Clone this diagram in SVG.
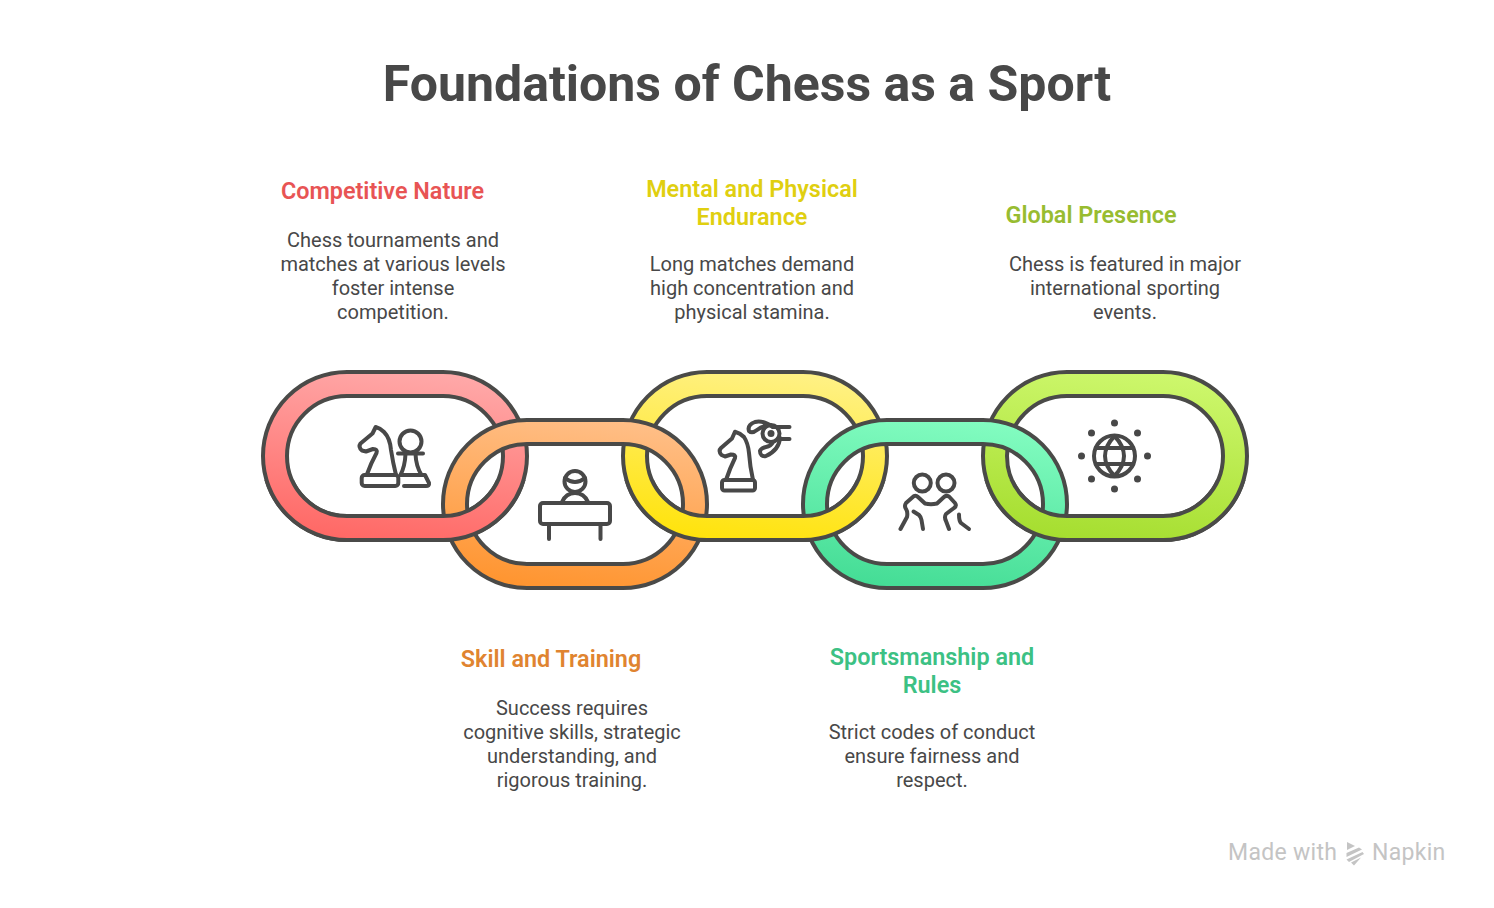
<svg xmlns="http://www.w3.org/2000/svg" width="1494" height="908" viewBox="0 0 1494 908">
<style>
text{font-family:Roboto,"Liberation Sans",sans-serif}
.title{font-size:50px;font-weight:700;fill:#484848;text-anchor:middle}
.head{font-size:23.400px;font-weight:600;text-anchor:middle}
.body{font-size:20px;fill:#484848;text-anchor:middle}
.link{stroke:#4a4a48;stroke-width:4;fill-rule:evenodd}
.ic{fill:none;stroke:#484848;stroke-width:4;stroke-linecap:round;stroke-linejoin:round}
.dot{fill:#484848}
.brand{font-size:23px;fill:#c4c4c4;letter-spacing:.3px}
#node-mental-endurance .head{fill:#e0cf10}
#node-sportsmanship .head{fill:#3cc184}
</style>
<defs>
<path id="ring" d="M84,0H180A84,84 0 0 1 180,168H84A84,84 0 0 1 84,0ZM84,24A60,60 0 0 0 84,144H180A60,60 0 0 0 180,24Z"/>
<linearGradient id="g1" x1=".6" y1="0" x2=".4" y2="1"><stop offset="0" stop-color="#ffa8a8"/><stop offset="1" stop-color="#ff6966"/></linearGradient>
<linearGradient id="g2" x1=".6" y1="0" x2=".4" y2="1"><stop offset="0" stop-color="#ffbe86"/><stop offset="1" stop-color="#ff9530"/></linearGradient>
<linearGradient id="g3" x1=".6" y1="0" x2=".4" y2="1"><stop offset="0" stop-color="#fff184"/><stop offset="1" stop-color="#ffe30d"/></linearGradient>
<linearGradient id="g4" x1=".6" y1="0" x2=".4" y2="1"><stop offset="0" stop-color="#82fcc0"/><stop offset="1" stop-color="#45dd96"/></linearGradient>
<linearGradient id="g5" x1=".6" y1="0" x2=".4" y2="1"><stop offset="0" stop-color="#cdf76c"/><stop offset="1" stop-color="#a6de30"/></linearGradient>
<clipPath id="low"><rect x="0" y="108" width="300" height="80"/></clipPath>
</defs>
<rect width="1494" height="908" fill="#fff"/>
<text class="title" x="747" y="101">Foundations of Chess as a Sport</text>

<g id="node-competitive-nature">
<use href="#ring" class="link" fill="url(#g1)" transform="translate(263,372)"/>
<g class="ic">
<path d="M366.700,475Q371,463 376.500,453Q378,449 373,449L366,451.500L362,450.500Q358,447 360.500,443.500L372.500,433.500L375.700,427Q380,428 384,432Q390,438 391,450Q393,463 396,475"/>
<rect x="361.700" y="475" width="36.600" height="11" rx="3"/>
<circle cx="410.500" cy="441.500" r="11"/>
<path d="M398,453.500H423M405.500,454Q405,466 400.500,475H425L429,483Q429.500,486 426,486H404M415.500,454Q416,466 421.500,475"/>
</g>
<text class="head" x="382.500" y="199" fill="#e85454">Competitive Nature</text>
<text class="body"><tspan x="393" y="247">Chess tournaments and</tspan><tspan x="393" y="271">matches at various levels</tspan><tspan x="393" y="295">foster intense</tspan><tspan x="393" y="319">competition.</tspan></text>
</g>

<g id="node-mental-endurance">
<use href="#ring" class="link" fill="url(#g3)" transform="translate(623,372)"/>
<g class="ic">
<path d="M726,480Q730,468 735,458Q736,454.500 731,454.500L725,456.500L721.500,455Q718,451 721,448L732,438.500L735,431.700Q740,433 744,437Q748,443 749,453Q750,467 753,480"/>
<rect x="722" y="480" width="33" height="10.500" rx="2.500"/>
<circle cx="771" cy="433.500" r="8.500"/>
<path d="M773,427H789.500M779,439H789.500"/>
<path d="M773,427Q763,420 755,422Q747,425 749,431Q752,434 757,430Q762,426 767,426"/>
<path d="M780,438Q779,450 766,456Q760,457 760,451Q761,448 766,447Q771,446 773,442"/>
</g>
<circle class="dot" cx="771" cy="433.500" r="3.500"/>
<text class="head"><tspan x="752" y="197">Mental and Physical</tspan><tspan x="752" y="225">Endurance</tspan></text>
<text class="body"><tspan x="752" y="271">Long matches demand</tspan><tspan x="752" y="295">high concentration and</tspan><tspan x="752" y="319">physical stamina.</tspan></text>
</g>

<g id="node-global-presence">
<use href="#ring" class="link" fill="url(#g5)" transform="translate(983,372)"/>
<g class="ic">
<circle cx="1114.500" cy="456" r="20.500"/>
<path d="M1114.500,436Q1105,446 1105,456Q1105,466 1114.500,476Q1124,466 1124,456Q1124,446 1114.500,436ZM1096,448H1133M1096,464H1133"/>
</g>
<g class="dot">
<circle cx="1114.500" cy="423" r="3.500"/><circle cx="1114.500" cy="489" r="3.500"/><circle cx="1081.500" cy="456" r="3.500"/><circle cx="1147.500" cy="456" r="3.500"/>
<circle cx="1091.500" cy="433" r="3.500"/><circle cx="1137.500" cy="433" r="3.500"/><circle cx="1091.500" cy="479" r="3.500"/><circle cx="1137.500" cy="479" r="3.500"/>
</g>
<text class="head" x="1091" y="223" fill="#98bc30">Global Presence</text>
<text class="body"><tspan x="1125" y="271">Chess is featured in major</tspan><tspan x="1125" y="295">international sporting</tspan><tspan x="1125" y="319">events.</tspan></text>
</g>

<g id="node-skill-training">
<use href="#ring" class="link" fill="url(#g2)" transform="translate(443,420)"/>
<g class="ic">
<circle cx="575" cy="481.500" r="10.500"/>
<path d="M565,478Q575,486 585,478M562,502Q566,493 575,493Q584,493 588,502"/>
<rect x="540" y="503" width="70" height="21" rx="3"/>
<path d="M549,524V539M600.500,524V539"/>
</g>
<text class="head" x="551" y="667" fill="#e08430">Skill and Training</text>
<text class="body"><tspan x="572" y="715">Success requires</tspan><tspan x="572" y="739">cognitive skills, strategic</tspan><tspan x="572" y="763">understanding, and</tspan><tspan x="572" y="787">rigorous training.</tspan></text>
</g>

<g id="node-sportsmanship">
<use href="#ring" class="link" fill="url(#g4)" transform="translate(803,420)"/>
<g class="ic">
<circle cx="922.300" cy="483" r="8.500"/>
<circle cx="946" cy="483" r="8.500"/>
<path d="M900.500,529L907,517Q908,512 906,509Q904,506 906,503L914,496Q916,495 918,497L925,503.500Q931,505 937,503.500L944,497Q946,495 949,496.500L955,503Q957,506 954,508L946,514Q944,517 946,521L949,529"/>
<path d="M913.500,511.500L919,515Q921,517 921.500,520L923,529M959,514.500Q959,521 961,523L969,529"/>
</g>
<text class="head"><tspan x="932" y="665">Sportsmanship and</tspan><tspan x="932" y="693">Rules</tspan></text>
<text class="body"><tspan x="932" y="739">Strict codes of conduct</tspan><tspan x="932" y="763">ensure fairness and</tspan><tspan x="932" y="787">respect.</tspan></text>
</g>

<g id="connectors">
<use href="#ring" class="link" fill="url(#g1)" clip-path="url(#low)" transform="translate(263,372)"/>
<use href="#ring" class="link" fill="url(#g3)" clip-path="url(#low)" transform="translate(623,372)"/>
<use href="#ring" class="link" fill="url(#g5)" clip-path="url(#low)" transform="translate(983,372)"/>
</g>

<g id="brand">
<text class="brand" x="1228" y="860">Made with</text>
<text class="brand" x="1372" y="860">Napkin</text>
<path fill="#c4c4c4" d="M1347,842L1355,846L1347,850ZM1346.500,853L1359,847.500L1362,849.500L1346.500,857ZM1346.500,859.500L1362.500,852L1364,854L1349,862ZM1351,862.500L1361,857.500L1354,865.500Z"/>
</g>
</svg>
